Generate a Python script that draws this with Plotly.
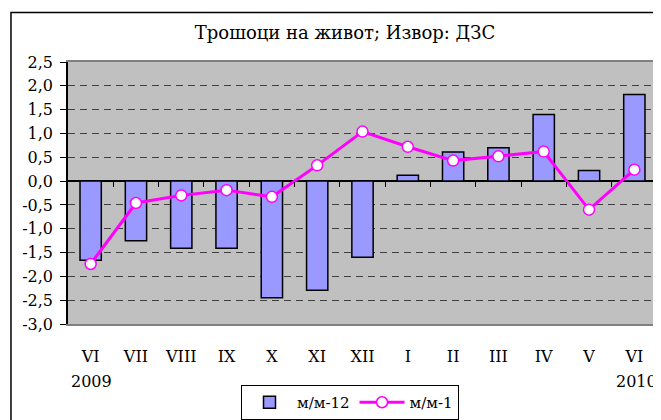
import plotly.graph_objects as go

months = ["VI", "VII", "VIII", "IX", "X", "XI", "XII", "I", "II", "III", "IV", "V", "VI"]
yoy = [-1.66, -1.25, -1.41, -1.41, -2.45, -2.29, -1.60, 0.12, 0.61, 0.70, 1.40, 0.22, 1.82]
mom = [-1.74, -0.46, -0.30, -0.19, -0.33, 0.33, 1.04, 0.72, 0.43, 0.52, 0.62, -0.60, 0.24]
ytick_vals = [-3.0, -2.5, -2.0, -1.5, -1.0, -0.5, 0.0, 0.5, 1.0, 1.5, 2.0, 2.5]
ytick_text = ["-3,0", "-2,5", "-2,0", "-1,5", "-1,0", "-0,5", "0,0", "0,5", "1,0", "1,5", "2,0", "2,5"]
years = ["2009", "2010"]
title = "Трошоци на живот; Извор: ДЗС"

xs = list(range(len(months)))
FONT = "DejaVu Serif"
W, H = 653, 412  # page body has an 8px margin

fig = go.Figure()
fig.add_trace(go.Bar(x=xs, y=yoy, name="м/м-12", width=0.47,
                     marker=dict(color="#9999FF", line=dict(color="black", width=1.5))))
fig.add_trace(go.Scatter(x=xs, y=mom, name="м/м-1", mode="lines+markers",
                         line=dict(color="#FF00FF", width=3),
                         marker=dict(symbol="circle", size=11, color="white",
                                     line=dict(color="#FF00FF", width=1.5))))

fig.update_layout(
    width=W, height=H,
    margin=dict(l=60, r=4, t=54, b=96, autoexpand=False),
    paper_bgcolor="white", plot_bgcolor="#C0C0C0",
    font=dict(family=FONT, size=16, color="black"),
    title=dict(text=title, x=(345 - 8) / W, xanchor="center", y=1 - (33 - 8) / H, yanchor="middle",
               font=dict(family=FONT, size=18)),
    showlegend=True,
    legend=dict(orientation="h", xref="container", yref="container",
                x=(350 - 8) / W, xanchor="center", y=1 - (385 - 8) / H, yanchor="top",
                bgcolor="white", bordercolor="black", borderwidth=1, itemwidth=45,
                font=dict(family=FONT, size=15), tracegroupgap=0),
    xaxis=dict(range=[-0.5, 12.5], tickvals=xs, ticktext=months, showgrid=False,
               zeroline=False, showline=True, linecolor="#808080", linewidth=1.5, mirror=True,
               ticks="", ticklabelstandoff=17, tickfont=dict(size=16)),
    xaxis2=dict(range=[-0.5, 12.5], overlaying="x", anchor="free", position=3 / 5.5,
                tickvals=[i + 0.5 for i in xs[:-1]], ticks="outside", ticklen=5, tickwidth=1,
                tickcolor="black", showticklabels=False, showgrid=False, zeroline=False,
                showline=False),
    yaxis=dict(range=[-3.0, 2.5], tickvals=ytick_vals, ticktext=ytick_text,
               showgrid=True, gridcolor="#404040", gridwidth=1, griddash="7px,5px",
               zeroline=True, zerolinecolor="black", zerolinewidth=1.5,
               showline=True, linecolor="black", linewidth=1.5,
               ticks="outside", ticklen=6, tickcolor="black", tickfont=dict(size=16),
               ticklabelstandoff=4),
    barmode="overlay",
)

# dummy invisible trace to activate xaxis2
fig.add_trace(go.Scatter(x=[0], y=[0], xaxis="x2", mode="markers", marker=dict(opacity=0),
                         showlegend=False, hoverinfo="skip"))

# right plot-area border
fig.add_shape(type="line", xref="paper", yref="paper", x0=1, x1=1, y0=0, y1=1,
              line=dict(color="#808080", width=1.5))
# outer chart border
fig.add_shape(type="rect", xref="paper", yref="paper", x0=-0.0968, x1=1.2, y0=-0.6, y1=1.189,
              line=dict(color="black", width=1.5), layer="above")

for xi, yr, sh in zip([xs[0], xs[-1]], years, [1, 2]):
    fig.add_annotation(x=xi, y=-0.221, xref="x", yref="paper", text=yr, showarrow=False,
                       xanchor="center", yanchor="middle", xshift=sh,
                       font=dict(family=FONT, size=16))

fig.write_html("out.html")
